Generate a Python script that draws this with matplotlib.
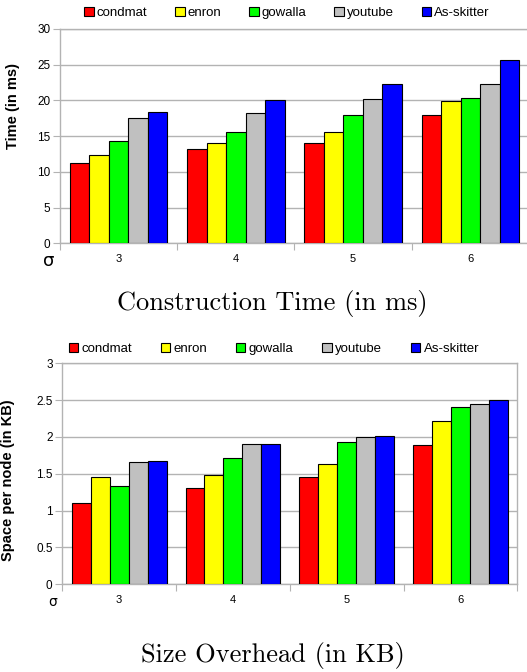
import matplotlib
matplotlib.use('Agg')
import matplotlib.pyplot as plt
import numpy as np

plt.rcParams['font.family'] = ['Liberation Sans', 'DejaVu Sans']

sigma = ['3', '4', '5', '6']
datasets = ['condmat', 'enron', 'gowalla', 'youtube', 'As-skitter']
colors = ['#ff0000', '#ffff00', '#00ff00', '#c0c0c0', '#0000ff']

# construction time (ms), one list per dataset over sigma = 3..6
time_condmat = [11.3, 13.2, 14.0, 18.0]
time_enron = [12.4, 14.0, 15.6, 19.9]
time_gowalla = [14.3, 15.6, 17.9, 20.3]
time_youtube = [17.5, 18.2, 20.2, 22.3]
time_skitter = [18.3, 20.1, 22.3, 25.6]

# space per node (KB)
space_condmat = [1.11, 1.31, 1.45, 1.89]
space_enron = [1.45, 1.48, 1.63, 2.22]
space_gowalla = [1.34, 1.71, 1.93, 2.40]
space_youtube = [1.66, 1.91, 2.00, 2.45]
space_skitter = [1.67, 1.91, 2.01, 2.50]

time_series = [time_condmat, time_enron, time_gowalla, time_youtube, time_skitter]
space_series = [space_condmat, space_enron, space_gowalla, space_youtube, space_skitter]

GRID = '#b3b3b3'


def draw_bars(ax, series, ymax, ystep, ylabel):
    x = np.arange(len(sigma))
    w = 1.0 / 6
    for i, (vals, name, c) in enumerate(zip(series, datasets, colors)):
        ax.bar(x + (i - 2) * w, vals, w, color=c, edgecolor='black',
               linewidth=0.8, label=name, zorder=3)
    ax.set_xlim(-0.5, len(sigma) - 0.5)
    ax.set_ylim(0, ymax)
    ax.set_yticks(np.arange(0, ymax + ystep / 2, ystep))
    ax.yaxis.set_major_formatter(plt.FuncFormatter(lambda v, p: '%g' % v))
    ax.grid(axis='y', color=GRID, linewidth=1, zorder=0)
    for s in ax.spines.values():
        s.set_color(GRID)
        s.set_linewidth(1)
    # boundary ticks between groups, labels at group centres
    ax.set_xticks(np.arange(-0.5, len(sigma)), minor=False)
    ax.set_xticklabels([])
    ax.set_xticks(x, minor=True)
    ax.set_xticklabels(sigma, minor=True)
    ax.tick_params(axis='x', which='major', length=5, color=GRID, direction='out')
    ax.tick_params(axis='x', which='minor', length=0, pad=8, labelsize=8)
    ax.tick_params(axis='y', length=5, color=GRID, direction='out', labelsize=8.5, pad=2)
    ax.set_ylabel(ylabel, fontsize=10.5, fontweight='bold')
    return ax


fig = plt.figure(figsize=(5.27, 6.72), dpi=100)

ax1 = fig.add_axes([60 / 527, 0.638, 469 / 527, 0.319])
draw_bars(ax1, time_series, 30, 5, 'Time (in ms)')
ax1.yaxis.set_label_coords(-0.085, 0.64)
ax1.legend(loc='center', bbox_to_anchor=(0.484, 1.073), ncol=5, frameon=False,
           fontsize=9.5, handlelength=0.7, handleheight=0.7, handletextpad=0.25,
           columnspacing=2.1, borderaxespad=0)
ax1.text(-0.012, -0.085, 'σ', transform=ax1.transAxes, ha='right', va='center',
         fontsize=13, family='DejaVu Sans')
fig.text(0.517, 0.549, 'Construction Time (in ms)', ha='center', va='center',
         fontsize=19, family='cmr10')

ax2 = fig.add_axes([62.3 / 527, 0.1305, 455 / 527, 0.3289])
draw_bars(ax2, space_series, 3, 0.5, 'Space per node (in KB)')
ax2.yaxis.set_label_coords(-0.103, 0.47)
ax2.legend(loc='center', bbox_to_anchor=(0.465, 1.063), ncol=5, frameon=False,
           fontsize=9.5, handlelength=0.7, handleheight=0.7, handletextpad=0.25,
           columnspacing=2.2, borderaxespad=0)
ax2.text(-0.012, -0.08, 'σ', transform=ax2.transAxes, ha='right', va='center',
         fontsize=10, family='DejaVu Sans')
fig.text(0.517, 0.024, 'Size Overhead (in KB)', ha='center', va='center',
         fontsize=19, family='cmr10')

fig.savefig('out.png', dpi=100)
